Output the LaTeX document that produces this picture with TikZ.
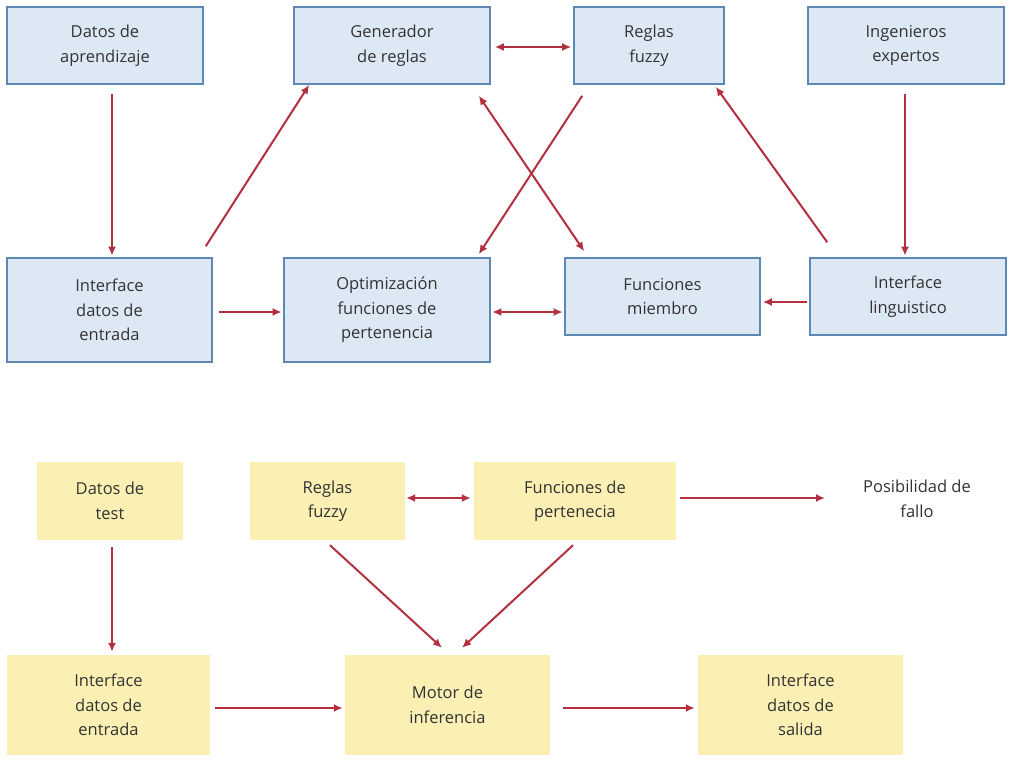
\documentclass[tikz,border=0pt]{standalone}
\usepackage{fontspec}
\setmainfont{Open Sans}
\usetikzlibrary{arrows.meta}
\definecolor{bfill}{HTML}{DDE8F5}
\definecolor{bdraw}{HTML}{5E88B4}
\definecolor{yfill}{HTML}{FAF0B4}
\definecolor{arcol}{HTML}{B3303F}
\definecolor{txt}{HTML}{333333}
\tikzset{
  bbox/.style={rectangle, draw=bdraw, line width=1.6pt, fill=bfill, align=center, font=\fontsize{16.5}{24.5}\selectfont, text=txt, inner sep=0pt},
  ybox/.style={rectangle, fill=yfill, align=center, font=\fontsize{16.5}{24.5}\selectfont, text=txt, inner sep=0pt},
  arr/.style={draw=arcol, line width=2pt, -{Latex[length=9pt,width=8pt]}},
  darr/.style={draw=arcol, line width=2pt, {Latex[length=9pt,width=8pt]}-{Latex[length=9pt,width=8pt]}}
}
\begin{document}
\begin{tikzpicture}[x=1pt,y=-1pt]
\useasboundingbox (0,0) rectangle (1009,761);
\fill[white] (0,0) rectangle (1009,761);
% top blue boxes
\node[bbox, minimum width=196pt, minimum height=77pt] (dap) at (105,45.5) {Datos de\\aprendizaje};
\node[bbox, minimum width=196pt, minimum height=77pt] (gen) at (392,45.5) {Generador\\de reglas};
\node[bbox, minimum width=150pt, minimum height=77pt] (reg) at (649,45.5) {Reglas\\fuzzy};
\node[bbox, minimum width=196pt, minimum height=77pt] (ing) at (906,45.5) {Ingenieros\\expertos};
\node[bbox, minimum width=205pt, minimum height=104pt] (idat) at (109.5,310) {Interface\\datos de\\entrada};
\node[bbox, minimum width=206pt, minimum height=104pt] (opt) at (387,310) {Optimización\\funciones de\\pertenencia};
\node[bbox, minimum width=195pt, minimum height=77pt] (fmi) at (662.5,296.5) {Funciones\\miembro};
\node[bbox, minimum width=196pt, minimum height=77pt] (ilin) at (908,296.5) {Interface\\linguistico};
% top arrows
\draw[arr] ([shift={(7,9)}]dap.south) -- ([shift={(2.5,-1.5)}]idat.north);
\draw[arr] ([shift={(-7,-11)}]idat.north east) -- ([xshift=16pt]gen.south west);
\draw[darr] ([shift={(4,1.5)}]gen.east) -- ([shift={(-2,1.5)}]reg.west);
\draw[arr] ([shift={(9,11)}]reg.south west) -- ([shift={(-12,-3)}]opt.north east);
\draw[darr] ([shift={(-12,11)}]gen.south east) -- ([shift={(20,-6)}]fmi.north west);
\draw[arr] ([shift={(18,-15)}]ilin.north west) -- ([shift={(-9,2)}]reg.south east);
\draw[arr] ([shift={(-1,9)}]ing.south) -- ([shift={(-3,-1.5)}]ilin.north);
\draw[arr] ([shift={(6,2)}]idat.east) -- ([shift={(-1.5,2)}]opt.west);
\draw[darr] ([shift={(1.5,2)}]opt.east) -- ([shift={(-1.5,15.5)}]fmi.west);
\draw[arr] ([shift={(-2,5.5)}]ilin.west) -- ([shift={(2,5.5)}]fmi.east);
% bottom yellow boxes
\node[ybox, minimum width=146pt, minimum height=78pt] (dte) at (110,501) {Datos de\\test};
\node[ybox, minimum width=155pt, minimum height=78pt] (rfz) at (327.5,501) {Reglas\\fuzzy};
\node[ybox, minimum width=202pt, minimum height=78pt] (fpe) at (575,501) {Funciones de\\pertenecia};
\node[align=center, font=\fontsize{16.5}{24.5}\selectfont, text=txt] (pos) at (917,499) {Posibilidad de\\fallo};
\node[ybox, minimum width=203pt, minimum height=100pt] (idat2) at (108.5,705) {Interface\\datos de\\entrada};
\node[ybox, minimum width=205pt, minimum height=100pt] (mot) at (447.5,705) {Motor de\\inferencia};
\node[ybox, minimum width=205pt, minimum height=100pt] (isal) at (800.5,705) {Interface\\datos de\\salida};
% bottom arrows
\draw[arr] ([shift={(2,7)}]dte.south) -- ([shift={(3.5,-3)}]idat2.north);
\draw[darr] ([shift={(1,-3)}]rfz.east) -- ([shift={(-3,-3)}]fpe.west);
\draw[arr] ([shift={(4,-3)}]fpe.east) -- ([shift={(-92,-1)}]pos.center);
\draw[arr] ([shift={(2.5,5)}]rfz.south) -- ([shift={(-5.5,-7)}]mot.north);
\draw[arr] ([shift={(-2,5)}]fpe.south) -- ([shift={(14.5,-7)}]mot.north);
\draw[arr] ([shift={(5,3)}]idat2.east) -- ([shift={(-2,3)}]mot.west);
\draw[arr] ([shift={(13,3)}]mot.east) -- ([shift={(-3,3)}]isal.west);
\end{tikzpicture}
\end{document}
